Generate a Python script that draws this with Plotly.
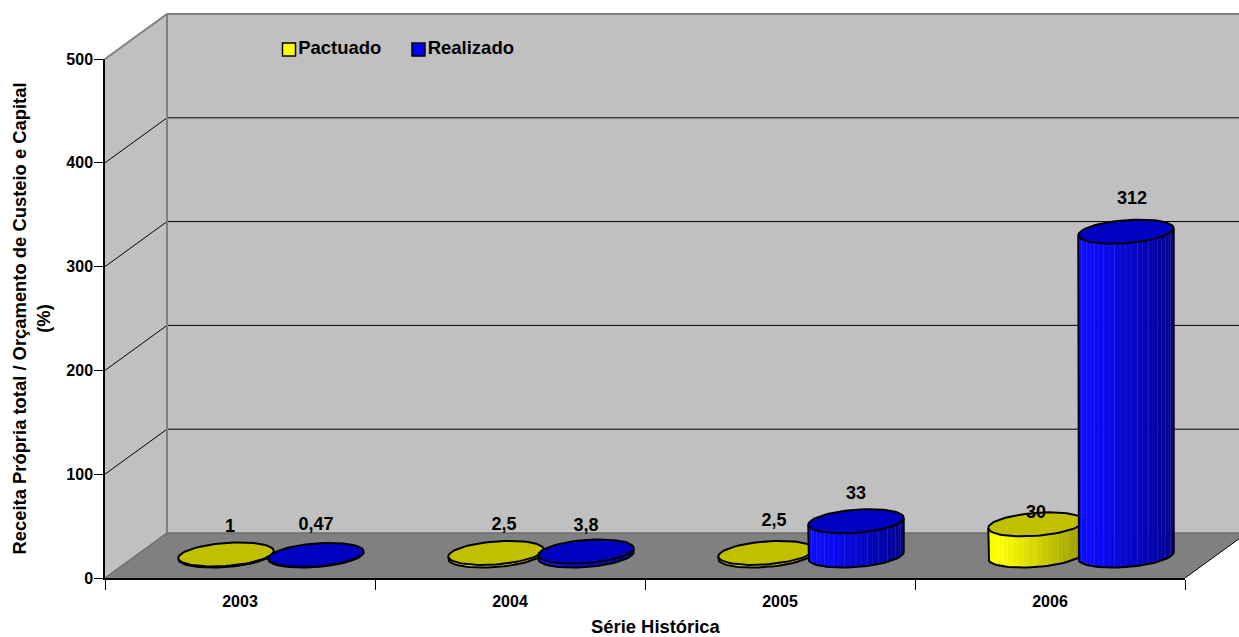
import math
import plotly.graph_objects as go

# ---- data ----
categories = ["2003", "2004", "2005", "2006"]
pactuado = [1, 2.5, 2.5, 30]
realizado = [0.47, 3.8, 33, 312]
pactuado_labels = ["1", "2,5", "2,5", "30"]
realizado_labels = ["0,47", "3,8", "33", "312"]
y_ticks = [0, 100, 200, 300, 400, 500]
series_names = ["Pactuado", "Realizado"]

# ---- page geometry (pixels) ----
W, H = 1239, 637
PLOT_L, PLOT_R, PLOT_T, PLOT_B = 105, 1185, 59, 578

# ---- pseudo-3D geometry, in axis units ----
X_END = len(categories)
Y_END = y_ticks[-1]
PX_X = (PLOT_R - PLOT_L) / X_END   # pixels per category
PX_Y = (PLOT_B - PLOT_T) / Y_END   # pixels per value unit
DX = 62 / PX_X          # depth shift along x
DY = 45 / PX_Y          # depth shift along y
RX = 47.7 / PX_X
RY = 11.5 / PX_Y
TILT = 3.5 / PX_Y
N_ELL = 72
N_STRIPS = 26

BG_WALL = "#C0C0C0"
FLOOR = "#808080"
EDGE = "#808080"

traces = []


def poly(xs, ys, fill=None, line=None, width=0):
    traces.append(go.Scatter(
        x=xs, y=ys, mode="lines", cliponaxis=False, hoverinfo="skip", showlegend=False,
        xaxis="x", yaxis="y",
        fill="toself" if fill else None, fillcolor=fill,
        line=dict(color=line or "rgba(0,0,0,0)", width=width),
    ))


# walls and floor
right = X_END + DX
poly([0, DX, DX, 0, 0], [0, DY, Y_END + DY, Y_END, 0], fill=BG_WALL)
poly([DX, right, right, DX, DX], [DY, DY, Y_END + DY, Y_END + DY, DY], fill=BG_WALL)
poly([0, X_END, right, DX, 0], [0, 0, DY, DY, 0], fill=FLOOR)

# gridlines on side and back wall
for t in y_ticks[1:-1]:
    poly([0, DX, right], [t, t + DY, t + DY], line="#000000", width=1)
poly([0, DX, right], [Y_END, Y_END + DY, Y_END + DY], line=EDGE, width=2)
poly([DX, DX], [DY, Y_END + DY], line=EDGE, width=2)
poly([0, DX, right], [0, DY, DY], line="#6e6e6e", width=1.5)
poly([X_END, right], [0, DY], line="#000000", width=1)


def mix(c1, c2, f):
    return tuple(round(a + (b - a) * f) for a, b in zip(c1, c2))


def css(c):
    return "rgb(%d,%d,%d)" % c


def ell(cx, cy, t):
    return (cx + RX * math.cos(t), cy + RY * math.sin(t) + TILT * math.cos(t))


def cylinder(i, slot, value, light, dark, top):
    cx = i + slot + 0.5 * DX
    base = 0.5 * DY
    tp = base + value
    # side strips, swept over the front half from left to right
    for s in range(N_STRIPS):
        t0 = math.pi + (math.pi * s / N_STRIPS)
        t1 = math.pi + (math.pi * (s + 1) / N_STRIPS)
        pts0 = ell(cx, base, t0)
        pts1 = ell(cx, base, t1)
        tp0 = ell(cx, tp, t0)
        tp1 = ell(cx, tp, t1)
        f = (pts0[0] - (cx - RX)) / (2 * RX)
        c = mix(light, dark, max(0, f - 0.12) / 0.88)
        sheen = mix(c, (150, 150, 255) if light[2] > 100 else (255, 255, 170), 0.3)
        poly([pts0[0], pts1[0], tp1[0], tp0[0], pts0[0]],
             [pts0[1], pts1[1], tp1[1], tp0[1], pts0[1]], fill=css(c),
             line=css(sheen) if s % 2 else css(c), width=0.5)
    # side outline
    ts = [math.pi + math.pi * k / (N_ELL / 2) for k in range(N_ELL // 2 + 1)]
    bx = [ell(cx, base, t)[0] for t in ts]
    by = [ell(cx, base, t)[1] for t in ts]
    poly([bx[0]] + bx + [bx[-1]], [tp - TILT] + by + [tp + TILT], line="#000000", width=2)
    # top
    ts = [2 * math.pi * k / N_ELL for k in range(N_ELL + 1)]
    poly([ell(cx, tp, t)[0] for t in ts], [ell(cx, tp, t)[1] for t in ts],
         fill=top, line="#000000", width=2)


YEL = ((255, 255, 0), (150, 150, 0), "#C0C000")
BLU = ((10, 10, 255), (0, 0, 140), "#0000C0")

for i in range(len(categories)):
    cylinder(i, 1 / 3, pactuado[i], *YEL)
    cylinder(i, 2 / 3, realizado[i], *BLU)

# data labels: (pixel offsets from the column's top centre)
lab_x, lab_y, lab_t = [], [], []
off_p = [(4, 27), (8, 27), (8, 31), (0, 11)]
off_r = [(0, 30), (0, 25), (0, 27), (6, 32)]
for i in range(len(categories)):
    for slot, vals, labs, off in ((1 / 3, pactuado, pactuado_labels, off_p),
                                  (2 / 3, realizado, realizado_labels, off_r)):
        lab_x.append(i + slot + 0.5 * DX + off[i][0] / PX_X)
        lab_y.append(0.5 * DY + vals[i] + off[i][1] / PX_Y)
        lab_t.append(labs[i])
FONT = dict(family="Liberation Sans", color="#000000", weight="bold")
traces.append(go.Scatter(x=lab_x, y=lab_y, text=lab_t, mode="text", cliponaxis=False,
                         hoverinfo="skip", showlegend=False, xaxis="x", yaxis="y",
                         textfont=dict(size=18, **FONT)))


# legend key, placed in the plane of the back wall
def px_x(p):
    return (p - PLOT_L) / PX_X


def px_y(p):
    return (PLOT_B - p) / PX_Y


for name, colour, p in zip(series_names, ["#FFFF00", "#0000FF"], [289, 418.5]):
    traces.append(go.Scatter(
        x=[px_x(p)], y=[px_y(49.6)], mode="markers+text", name=name, text=[name],
        textposition="middle right", textfont=dict(size=18.5, **FONT),
        cliponaxis=False, hoverinfo="skip", showlegend=False, xaxis="x", yaxis="y",
        marker=dict(symbol="square", size=13, color=colour, line=dict(color="#000000", width=1.5)),
    ))

# an invisible trace that brings the front-plane axes (ticks, labels, titles) to life
traces.append(go.Scatter(x=[0], y=[0], mode="markers", xaxis="x2", yaxis="y2", showlegend=False,
                         hoverinfo="skip", marker=dict(opacity=0)))

fig = go.Figure(traces)
fig.update_layout(
    width=W, height=H,
    margin=dict(l=0, r=0, t=0, b=0, autoexpand=False),
    paper_bgcolor="#FFFFFF", plot_bgcolor="rgba(0,0,0,0)",
    showlegend=False,
    # full-page drawing axes, same scale as the visible ones
    xaxis=dict(domain=[0, 1], range=[-PLOT_L / PX_X, (W - PLOT_L) / PX_X], visible=False),
    yaxis=dict(domain=[0, 1], range=[(PLOT_B - H) / PX_Y, PLOT_B / PX_Y], visible=False),
    xaxis2=dict(domain=[PLOT_L / W, PLOT_R / W], anchor="y2", range=[0, X_END], tickmode="array",
                tickvals=[i + 0.5 for i in range(len(categories))],
                ticktext=categories, ticks="outside", ticklen=8, tickcolor="rgba(0,0,0,0)",
                tickfont=dict(size=16, **FONT), showgrid=False, zeroline=False,
                showline=True, linecolor="#000000", linewidth=1.5,
                minor=dict(tickmode="array", tickvals=list(range(X_END + 1)), ticks="outside",
                           ticklen=10, tickcolor="#000000", tickwidth=1, showgrid=False)),
    yaxis2=dict(domain=[1 - PLOT_B / H, 1 - PLOT_T / H], anchor="x2", range=[0, Y_END], tickmode="array",
                tickvals=y_ticks, ticks="outside", ticklen=9, ticklabelstandoff=-2,
                tickcolor="#000000", tickwidth=1, tickfont=dict(size=16, **FONT), showgrid=False, zeroline=False,
                showline=True, linecolor="#000000", linewidth=1.5,
                title=dict(text="Receita Própria total / Orçamento de Custeio e Capital<br>(%)",
                           font=dict(size=18.4, **FONT), standoff=11)),
    annotations=[dict(text="Série Histórica", xref="paper", yref="paper", x=655.5 / W, y=1 - 626 / H,
                      xanchor="center", yanchor="middle", showarrow=False, font=dict(size=18.4, **FONT))],
)
fig.write_html("out.html", config=dict(displayModeBar=False),
               post_script="document.body.style.margin='0';document.body.style.overflow='hidden';")
